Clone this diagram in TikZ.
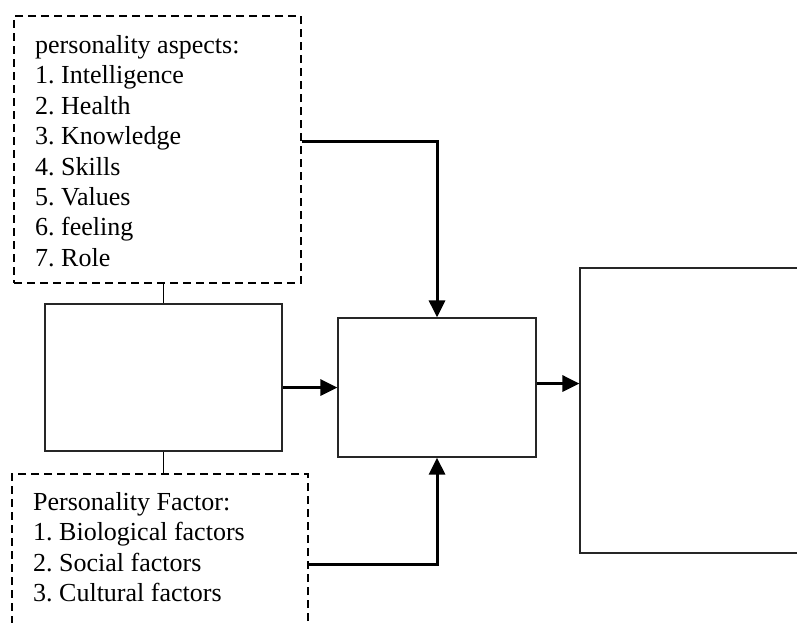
\documentclass[tikz,border=0pt]{standalone}
\usepackage{fontspec}
\setmainfont{Liberation Serif}
\usetikzlibrary{arrows.meta}
\frenchspacing
\begin{document}
\begin{tikzpicture}[x=1pt,y=-1pt,
  box/.style={draw=black!85, line width=1.2pt, rectangle, inner sep=0pt},
  dbox/.style={draw=black, line width=1.5pt, dash pattern=on 8pt off 5pt, rectangle, inner sep=0pt},
  link/.style={draw=black, line width=1.4pt},
  arr/.style={draw=black, line width=3pt, -{Triangle[length=17pt,width=16pt]}},
  txt/.style={anchor=north west, inner sep=0pt, align=left, font=\frenchspacing\fontsize{26}{30.4}\selectfont}
]
\useasboundingbox (0,0) rectangle (797,622);
% dashed boxes
\node[dbox, minimum width=287pt, minimum height=267pt] (aspects) at (157.5,149.5) {};
\node[dbox, minimum width=296pt, minimum height=176pt] (factor) at (160,562) {};
% solid boxes
\node[box, minimum width=237pt, minimum height=147pt] (left) at (163.5,377.5) {};
\node[box, minimum width=198pt, minimum height=139pt] (mid) at (437,387.5) {};
\node[box, minimum width=240pt, minimum height=285pt] (right) at (700,410.5) {};
% texts
\node[txt] (aspectsText) at (35,35.2) {personality aspects:\\1. Intelligence\\2. Health\\3. Knowledge\\4. Skills\\5. Values\\6. feeling\\7. Role};
\node[txt] (factorText) at (33,492.2) {Personality Factor:\\1. Biological factors\\2. Social factors\\3. Cultural factors};
% connectors
\draw[link] (left.north |- aspects.south) -- (left.north);
\draw[link] (left.south) -- (left.south |- factor.north);
\draw[arr] (left.east |- mid.west) -- (mid.west);
\draw[arr] ([yshift=8.5pt]aspects.east) -| (mid.north);
\draw[arr] ([yshift=-2pt]factor.east) -| (mid.south);
\draw[arr] ([yshift=4pt]mid.east) -- ([yshift=4pt]mid.east -| right.west);
\end{tikzpicture}
\end{document}
